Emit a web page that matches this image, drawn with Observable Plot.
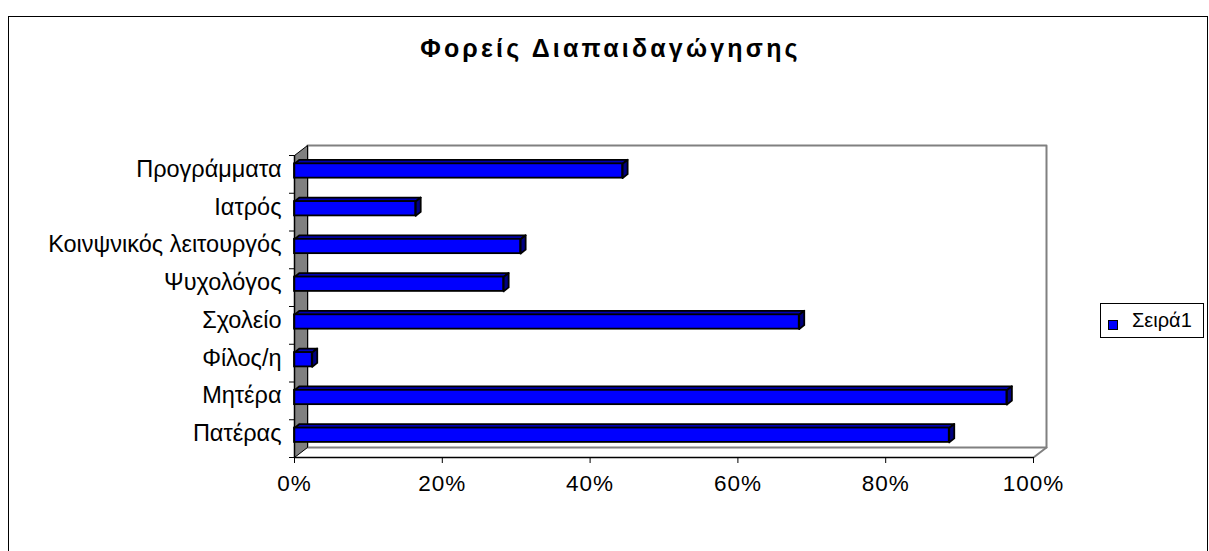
<!DOCTYPE html>
<html><head><meta charset="utf-8">
<script src="https://cdn.jsdelivr.net/npm/d3@7"></script>
<script src="https://cdn.jsdelivr.net/npm/@observablehq/plot@0.6"></script>
<style>
body{margin:0;background:#fff;font-family:"Liberation Sans",Arial,sans-serif;}
#wrap{position:relative;width:1209px;height:551px;overflow:hidden;background:#fff;}
#chart{position:absolute;left:0;top:0;}
#border{position:absolute;left:8px;top:16px;width:1200px;height:600px;border:1px solid #000;box-sizing:border-box;}
#title{position:absolute;left:0;width:1221px;top:34px;text-align:center;font-weight:bold;font-size:25px;letter-spacing:3.2px;color:#000;white-space:nowrap;}
#legend{position:absolute;left:1100px;top:303px;width:104px;height:35px;border:1px solid #000;box-sizing:border-box;font-size:20px;background:#fff;}
#legend .sw{position:absolute;left:7px;top:16px;width:8px;height:8px;background:#0000FF;border:1px solid #000;}
#legend .lb{position:absolute;left:31px;top:5px;}
#chart g[aria-label="y-axis tick label"] text{font-size:23.5px;}
#chart g[aria-label="x-axis tick label"] text{font-size:22.5px;letter-spacing:1px;}
</style></head>
<body>
<div id="wrap">
  <div id="border"></div>
  <div id="chart"></div>
  <div id="title"></div>
  <div id="legend"><div class="sw"></div><div class="lb"></div></div>
</div>
<script>
const chartTitle = "Φορείς Διαπαιδαγώγησης";
const seriesName = "Σειρά1";
const categories = ["Πατέρας","Μητέρα","Φίλος/η","Σχολείο","Ψυχολόγος","Κοινψνικός λειτουργός","Ιατρός","Προγράμματα"];
const values = [0.886, 0.964, 0.024, 0.683, 0.283, 0.306, 0.164, 0.444];
const xTicks = [0, 0.2, 0.4, 0.6, 0.8, 1];

document.getElementById("title").textContent = chartTitle;
document.querySelector("#legend .lb").textContent = seriesName;

const W = 1209, H = 551, mL = 294, mR = 176, mT = 155, mB = 94;
const n = categories.length;
const pxX = 1 / (W - mL - mR), pxY = n / (H - mT - mB);
const wX = 13 * pxX, wY = 10 * pxY;   // wall depth
const bX = 5 * pxX, bY = 4 * pxY;     // bar depth
const a = 0.40, b = 0.78;             // front face band fraction

const rows = categories.map((c, i) => ({c, v: values[i], i}));

const leftWall = [{x:0,y:0},{x:0,y:n},{x:wX,y:n+wY},{x:wX,y:wY},{x:0,y:0}];
const backWall = [{x:wX,y:wY},{x:wX,y:n+wY},{x:1+wX,y:n+wY},{x:1+wX,y:wY},{x:wX,y:wY}];
const floorEdge = [{x:1,y:0},{x:1+wX,y:wY}];

const tops = rows.flatMap(d => [
  {x:0,y:d.i+b},{x:d.v,y:d.i+b},{x:d.v+bX,y:d.i+b+bY},{x:bX,y:d.i+b+bY},{x:0,y:d.i+b}
].map(p => ({...p, id: d.i})));
const sides = rows.flatMap(d => [
  {x:d.v,y:d.i+a},{x:d.v,y:d.i+b},{x:d.v+bX,y:d.i+b+bY},{x:d.v+bX,y:d.i+a+bY},{x:d.v,y:d.i+a}
].map(p => ({...p, id: d.i})));

const plot = Plot.plot({
  width: W, height: H,
  marginLeft: mL, marginRight: mR, marginTop: mT, marginBottom: mB,
  style: {fontSize: "22px", fontFamily: "'Liberation Sans', Arial, sans-serif", color: "#000", background: "transparent"},
  x: {domain: [0, 1], axis: null},
  y: {domain: [0, n], axis: null},
  marks: [
    Plot.line(backWall, {x: "x", y: "y", stroke: "#808080", strokeWidth: 2}),
    Plot.line(floorEdge, {x: "x", y: "y", stroke: "#808080", strokeWidth: 2}),
    Plot.line(leftWall, {x: "x", y: "y", fill: "#808080", stroke: "#000", strokeWidth: 1}),
    Plot.line(tops, {x: "x", y: "y", z: "id", fill: "#0000B4", stroke: "#000", strokeWidth: 1.8, strokeLinejoin: "round"}),
    Plot.line(sides, {x: "x", y: "y", z: "id", fill: "#000080", stroke: "#000", strokeWidth: 1.8, strokeLinejoin: "round"}),
    Plot.rect(rows, {x1: 0, x2: "v", y1: d => d.i + a, y2: d => d.i + b, fill: "#0000FF", stroke: "#000", strokeWidth: 1.8}),
    Plot.ruleX([0], {y1: 0, y2: n, stroke: "#000", strokeWidth: 1.5}),
    Plot.ruleY([0], {x1: 0, x2: 1, stroke: "#000", strokeWidth: 1.5}),
    Plot.axisY(d3.range(0, n + 1), {anchor: "left", label: null, tickSize: 5, tickFormat: () => "", stroke: "#000"}),
    Plot.axisY(rows.map(d => d.i + 0.5), {anchor: "left", label: null, tickSize: 0, tickPadding: 13, dy: -5, tickFormat: d => categories[Math.floor(d)], fill: "#000"}),
    Plot.axisX(xTicks, {anchor: "bottom", label: null, tickSize: 6, tickPadding: 12, tickFormat: d3.format(".0%"), stroke: "#000", fill: "#000"})
  ]
});
document.getElementById("chart").appendChild(plot);
</script>
</body></html>
